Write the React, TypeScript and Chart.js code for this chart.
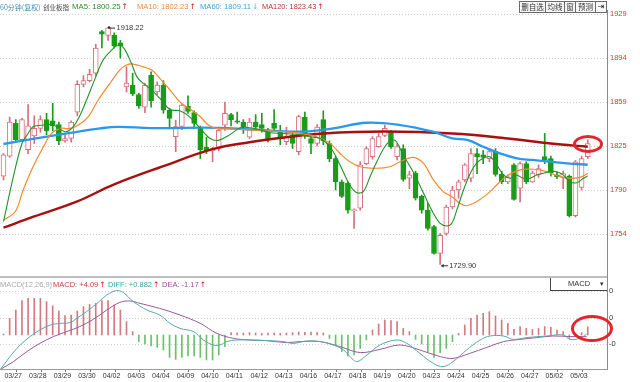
import React, { useEffect, useRef } from 'react';
import { Chart, registerables } from 'chart.js';
Chart.register(...registerables);

const FONT = '"Liberation Sans", Arial, sans-serif';

// ---- data ----
const dates = ['03/27','03/28','03/29','03/30','04/02','04/03','04/04','04/09','04/10','04/11','04/12','04/13','04/16','04/17','04/18','04/19','04/20','04/23','04/24','04/25','04/26','04/27','05/02','05/03'];

const opens = [1800,1816,1842,1829,1821,1832,1838,1845,1844,1841,1828,1830,1851,1873,1876,1882,1915,1912,1912,1906,1871,1872.5,1865,1855,1880.5,1867,1872.5,1852.5,1831.5,1839.5,1855.5,1850.5,1839,1823,1820,1822,1840.5,1849,1844,1843,1831,1843,1841,1836.5,1842,1835.5,1827.5,1832.5,1819.5,1847,1830,1826,1845,1826,1814,1795.5,1794.5,1772.5,1774.5,1810,1815.5,1823.5,1832.5,1835.5,1815.5,1822,1798.5,1802.5,1784,1773,1760,1738.5,1754.5,1775.5,1789,1797,1798.5,1818,1817,1814,1819.5,1801.5,1795.5,1809,1790.5,1810,1795.5,1801,1815.5,1814,1801,1799,1800,1768.5,1791,1815.5];
const highs = [1818,1847,1845,1846,1857,1848,1848,1850,1858,1843,1833,1844,1876,1880,1885,1905,1916,1918.22,1914,1908,1887,1882,1866,1874,1883,1875,1876,1854,1844.5,1858,1864,1852,1840,1831,1823,1838,1859,1850,1851,1845,1846,1849,1850,1838,1853,1840.5,1839,1834,1848.5,1851,1831.5,1841,1852,1828,1815.5,1797,1795.5,1774,1811.5,1823.5,1831.5,1834,1840.5,1836.5,1826,1825,1804,1804,1785,1778.5,1761,1754.5,1777,1792,1797,1810,1822,1822,1820.5,1822,1822,1804,1801,1810,1811.5,1811.5,1804,1809,1834,1816,1803,1804,1801,1812.5,1816,1829];
const lows = [1797,1815,1827,1828,1818,1826,1835,1833,1836,1825,1827,1827,1848,1871,1875,1880,1902,1908,1902,1894,1867,1864,1854,1850.5,1855,1865,1850,1838,1819.5,1837,1850,1838,1814,1818,1811.5,1820,1836.5,1840,1842,1834,1830,1836.5,1835,1827,1836.5,1825,1825,1822,1817,1830,1818,1824,1825,1811.5,1789,1783,1770.5,1758.5,1773,1809,1813.5,1823,1831.5,1822,1813,1796,1790,1781,1770.5,1757,1738,1729.9,1753,1774,1782.5,1795.5,1795.5,1802,1810,1811.5,1800,1794,1794,1781,1779.5,1794,1795,1799,1810,1800,1798,1790,1767.5,1767.5,1789,1814];
const closes = [1817,1843,1829,1845,1840,1838,1845,1836,1840,1828,1830,1843,1873,1876,1881,1902,1913,1918,1903.5,1903.5,1874,1865.5,1856,1872.5,1860,1872.5,1852.5,1846,1839.5,1856.5,1851.5,1842,1821,1820,1822,1836.5,1850,1845,1843,1839,1843,1839,1838,1829,1838,1830,1831.5,1826,1847.5,1833,1826,1839,1828,1814,1795.5,1784,1773,1773.5,1809,1822,1830,1831.5,1838,1823.5,1823.5,1797.5,1801,1782.5,1773,1758.5,1738.5,1753,1775.5,1789,1795.5,1809,1818,1815.5,1815,1819.5,1801.5,1795.5,1799.5,1781.5,1810,1795.5,1802.5,1806,1813,1802.5,1799.5,1802,1768.5,1811.5,1814,1826];

// moving averages: [bar index, value]
const ma5 = [[0,1763.8],[1.6,1799.6],[3,1826],[4,1834],[4.8,1839.3],[6.5,1840.7],[8.1,1840.7],[10,1835.4],[11.1,1838],[12.2,1846],[13.5,1860.6],[14.9,1877.8],[16.2,1892.4],[17.6,1900.4],[18.7,1904.3],[19.6,1901.7],[20.8,1889.8],[21.7,1879],[22.7,1873.9],[24.1,1868.5],[25.4,1862],[27.1,1853],[28.7,1852],[30.3,1847],[32,1838],[33.6,1830],[34.9,1828.5],[36.8,1833],[38.5,1838.5],[40.1,1838.5],[41.7,1837],[43.3,1834.5],[45.4,1834],[48.2,1833],[49.8,1831.4],[51.5,1830],[53.1,1823.4],[54.7,1809],[56.3,1793],[57.4,1787],[58.5,1787.7],[59.6,1799.6],[60.7,1811.5],[62,1823.4],[63.1,1828.8],[63.9,1827.4],[65,1816.8],[66.6,1803.6],[68.3,1786.4],[69.9,1770.5],[71,1762.5],[72.1,1760.4],[72.9,1762.5],[73.7,1773],[74.8,1789],[75.9,1802.3],[76.9,1810.2],[78,1814.2],[79.1,1815.5],[80.2,1809],[81.3,1801],[82.4,1798.3],[83.4,1801],[84.5,1798.3],[85.6,1798.3],[86.7,1801],[87.8,1802.3],[88.9,1803.6],[90,1803.6],[91,1801],[92.1,1795.6],[93.2,1794.8],[94.3,1798.3],[95,1800.25]];
const ma10 = [[0,1765.1],[1.9,1771.7],[3.2,1789],[4.8,1807.5],[6.5,1823.4],[7.8,1834],[9.2,1838],[10.8,1838],[12.2,1840.7],[13.8,1847.3],[15.4,1860.6],[17.3,1873.9],[18.9,1884.4],[20,1888.4],[21.1,1889.2],[22.7,1887],[24.1,1884.4],[25.4,1877.8],[27.1,1868.5],[28.7,1859],[30.3,1853.5],[32,1847.3],[33.3,1840.7],[34.7,1838],[37.4,1837.5],[40.1,1836.7],[42.8,1836],[45.5,1835.5],[48.2,1834],[50.9,1831.4],[53.1,1826.1],[54.7,1818.2],[56.3,1811.5],[58,1807.5],[60.7,1806.3],[62.8,1807.5],[64.5,1811.5],[66.6,1815],[68.3,1810.2],[69.9,1797],[71.5,1787.7],[72.9,1783.7],[74.2,1778.4],[75.3,1776.5],[76.9,1779.7],[78.6,1785.5],[80.2,1793],[81.8,1800],[84,1805],[86.2,1805.5],[88.3,1803.6],[90.5,1799.6],[92.1,1798.3],[93.7,1799],[95,1802.23]];
const ma60 = [[0,1825.6],[4.8,1829.6],[10.3,1834],[15.7,1838],[18.6,1839.3],[24,1838.3],[34.7,1838.5],[40,1837.3],[48,1835.4],[53.6,1838],[59,1842.5],[64.5,1840.7],[69.8,1835.4],[73,1830],[75.4,1828.8],[78,1823.4],[80.7,1818.2],[83.5,1814.2],[86,1812.9],[88.9,1811.5],[91.6,1810.2],[95,1809.11]];
const ma120 = [[0,1759],[5,1768],[12,1780],[18,1793.5],[26,1808],[34,1821.5],[40,1827],[46,1831],[52,1834],[62,1835.5],[73,1834],[82,1830],[89,1826],[95,1823.43]];

const macdHist = [0.5,8.3,12.5,17.2,18.3,18.3,18.3,16.7,14.5,12,9.7,10,12,14.2,15.3,15.8,17.2,17.2,15,12.5,6.7,1.7,-3.3,-4.5,-5.5,-6.2,-7.5,-11.2,-12.2,-11.2,-10.5,-10.5,-11.2,-12.5,-12.5,-10,-5.8,1.2,1,1,1.2,1,0.8,1,1,0.8,1,1.2,1.5,1.3,1.5,1.2,1,-1.7,-5,-8.3,-10.5,-10,-6.7,-2.5,2.5,5.5,7.5,7.2,6.7,3.3,1.7,-2.2,-4.5,-8.3,-11.2,-8.8,-6.7,-3.3,0.8,5,8.3,10,10.8,11.7,9.5,7.5,5.8,2.8,4.2,3.3,2.8,3.3,4.2,3.8,2.5,1.7,-1.7,0.3,1.2,4.1];
const diffLine = [[-0.5,-17.2],[1.06,-10.8],[2.7,-5],[4.3,-0.8],[5.9,2.5],[7.6,5],[9.2,5.8],[10.8,6.2],[11.9,8.3],[13.5,11.7],[15.2,15.8],[16.8,20],[18.4,22.2],[19.5,21.2],[21.1,16.7],[23.3,12.5],[25.4,10],[27.1,5.8],[28.7,3.3],[30.9,1.7],[32.5,-2.5],[34.1,-5],[35.2,-5],[36.3,-3.3],[37.9,-2.5],[40.1,-2.5],[42.8,-2.8],[45.5,-3.3],[47.1,-4.2],[49.3,-3],[51.5,-3.3],[53.6,-5],[55.3,-7.5],[56.9,-12.5],[57.6,-13.3],[59.1,-10],[61.2,-5],[63.9,-2.5],[65.6,-4.2],[67.7,-9.2],[69.9,-14.2],[71.5,-15.8],[73.1,-13.3],[75.3,-7.5],[77.5,-2.5],[79.1,-0.5],[81.3,-0.5],[82.9,-2.2],[85.1,-1.3],[88.3,-0.5],[91,0],[92.1,-2.2],[93.7,-1.7],[94.8,0.4]];
const deaLine = [[-0.5,-17.2],[1.6,-13.3],[3.8,-8.3],[5.9,-4.2],[8.1,-0.8],[10.3,1.7],[12.4,4.2],[14.6,7.8],[16.8,12.5],[18.9,16.3],[20.6,17],[22.2,15.8],[25.4,13.3],[28.7,10],[32,5.8],[34.7,0.8],[37.4,-1.7],[40.1,-2.5],[42.8,-2.8],[46,-3.8],[48.2,-3.3],[51.5,-3.3],[54.7,-5.8],[58,-8.8],[61.2,-7.2],[64.5,-5],[67.7,-7.5],[71,-10.8],[73.1,-11.7],[75.8,-9.2],[78.6,-6.2],[81.3,-3.3],[84,-2.2],[86.7,-1.3],[89.4,-0.5],[92.1,-0.8],[94.8,-0.8]];

const priceTickValues = [1929, 1894, 1859, 1824, 1789, 1754];
const priceTickLabels = ['1929', '1894', '1859', '1825', '1790', '1754'];
const macdTickValues = [22, 8.5, -4.5];
const macdTickLabels = ['0', '0', '-0'];

const X_MIN = -0.57;
const X_MAX = 98.13;
const UP = '#d8707c';
const DOWN = '#1a9c1a';

const pts = (a: number[][]) => a.map(([x, y]) => ({ x, y }));

const extremesPlugin = {
  id: 'extremes',
  afterDatasetsDraw(chart: any) {
    const { ctx, scales, chartArea } = chart;
    const x = scales.x, y = scales.y;
    let hi = 0, lo = 0;
    highs.forEach((v, i) => { if (v > highs[hi]) hi = i; });
    lows.forEach((v, i) => { if (v < lows[lo]) lo = i; });
    ctx.save();
    ctx.font = '7.5px ' + FONT;
    ctx.fillStyle = '#333';
    ctx.strokeStyle = '#333';
    ctx.lineWidth = 1;
    ctx.textBaseline = 'middle';
    const hx = x.getPixelForValue(hi), hy = y.getPixelForValue(highs[hi]);
    ctx.beginPath(); ctx.arc(hx + 1, hy, 1.3, 0, Math.PI * 2); ctx.fill();
    ctx.beginPath(); ctx.moveTo(hx + 1, hy + 0.5); ctx.lineTo(hx + 7, hy + 0.5); ctx.stroke();
    ctx.fillText(highs[hi].toFixed(2), hx + 8.5, hy + 0.5);
    const lx = x.getPixelForValue(lo), ly = y.getPixelForValue(lows[lo]) + 1;
    ctx.beginPath(); ctx.moveTo(lx + 1, ly + 0.5); ctx.lineTo(lx + 8, ly + 0.5); ctx.stroke();
    ctx.beginPath(); ctx.moveTo(lx + 1, ly + 0.5); ctx.lineTo(lx + 3.5, ly - 1.5); ctx.lineTo(lx + 3.5, ly + 2.5); ctx.closePath(); ctx.fill();
    ctx.fillText(lows[lo].toFixed(2), lx + 9, ly + 0.5);
    // separator line under the price panel
    ctx.strokeStyle = '#a8a8a8';
    ctx.lineWidth = 1.5;
    ctx.beginPath(); ctx.moveTo(0, chartArea.bottom); ctx.lineTo(chartArea.right, chartArea.bottom); ctx.stroke();
    ctx.restore();
  },
};

export default function App() {
  const mainRef = useRef<HTMLCanvasElement>(null);
  const macdRef = useRef<HTMLCanvasElement>(null);

  useEffect(() => {
    document.body.style.margin = '0';
    Chart.defaults.font.family = FONT;
    const idx = opens.map((_, i) => i);
    const isUp = idx.map((i) => closes[i] >= opens[i]);

    const main = new Chart(mainRef.current as HTMLCanvasElement, {
      type: 'bar',
      data: {
        datasets: [
          { type: 'line', data: pts(ma5), borderColor: '#23912a', borderWidth: 1.1, pointRadius: 0, tension: 0.35, order: 0 } as any,
          { type: 'line', data: pts(ma10), borderColor: '#f5892d', borderWidth: 1.2, pointRadius: 0, tension: 0.35, order: 1 } as any,
          { type: 'line', data: pts(ma60), borderColor: '#2b98ec', borderWidth: 2.3, pointRadius: 0, tension: 0.4, order: 2 } as any,
          { type: 'line', data: pts(ma120), borderColor: '#a80f0f', borderWidth: 2.4, pointRadius: 0, tension: 0.4, order: 3 } as any,
          {
            type: 'bar',
            data: idx.map((i) => ({ x: i, y: [opens[i], closes[i]] })),
            backgroundColor: idx.map((i) => (isUp[i] ? '#ffffff' : DOWN)),
            borderColor: idx.map((i) => (isUp[i] ? UP : DOWN)),
            borderWidth: 1,
            borderSkipped: false,
            barThickness: 5,
            grouped: false,
            order: 4,
          } as any,
          {
            type: 'bar',
            data: idx.map((i) => ({ x: i, y: [lows[i], highs[i]] })),
            backgroundColor: idx.map((i) => (isUp[i] ? UP : DOWN)),
            borderWidth: 0,
            barThickness: 1,
            grouped: false,
            order: 5,
          } as any,
        ],
      },
      options: {
        responsive: false,
        animation: false,
        devicePixelRatio: 1,
        events: [],
        layout: { padding: { top: 10, bottom: 1, left: 0, right: 0 } },
        plugins: { legend: { display: false }, tooltip: { enabled: false } },
        scales: {
          x: { type: 'linear', min: X_MIN, max: X_MAX, display: false, offset: false },
          y: {
            type: 'linear',
            position: 'right',
            min: 1719.8,
            max: 1932.2,
            afterBuildTicks: (s: any) => { s.ticks = priceTickValues.map((v) => ({ value: v })); },
            afterFit: (s: any) => { s.width = 33; s.paddingTop = 0; s.paddingBottom = 0; },
            ticks: {
              autoSkip: false,
              padding: 3,
              color: '#c0403c',
              font: { size: 7.5, family: FONT },
              callback: (_v: any, i: number) => priceTickLabels[i],
            },
            grid: { color: '#cfcfcf', lineWidth: 1, drawTicks: false },
            border: { display: true, color: '#8a8a8a', width: 1, dash: [1, 2] },
          },
        },
      } as any,
      plugins: [extremesPlugin],
    });

    const macd = new Chart(macdRef.current as HTMLCanvasElement, {
      type: 'bar',
      data: {
        datasets: [
          { type: 'line', data: pts(diffLine), borderColor: '#55a9aa', borderWidth: 1, pointRadius: 0, tension: 0.35, order: 0 } as any,
          { type: 'line', data: pts(deaLine), borderColor: '#9c58a0', borderWidth: 1, pointRadius: 0, tension: 0.35, order: 1 } as any,
          {
            type: 'bar',
            data: macdHist.map((v, i) => ({ x: i, y: v })),
            backgroundColor: macdHist.map((v) => (v >= 0 ? '#d27a80' : '#6cc06c')),
            borderWidth: 0,
            barThickness: 1,
            grouped: false,
            order: 2,
          } as any,
        ],
      },
      options: {
        responsive: false,
        animation: false,
        devicePixelRatio: 1,
        events: [],
        layout: { padding: 0 },
        plugins: { legend: { display: false }, tooltip: { enabled: false } },
        scales: {
          x: {
            type: 'linear',
            min: X_MIN,
            max: X_MAX,
            offset: false,
            afterBuildTicks: (s: any) => { s.ticks = dates.map((_, d) => ({ value: d * 4 + 0.15 })); },
            afterFit: (s: any) => { s.height = 13; s.paddingLeft = 0; s.paddingRight = 0; },
            ticks: {
              autoSkip: false,
              maxRotation: 0,
              align: 'start',
              padding: 0,
              color: '#333',
              font: { size: 7, family: FONT },
              callback: (_v: any, i: number) => dates[i],
            },
            grid: { display: true, drawOnChartArea: false, drawTicks: true, tickLength: 3, color: '#777' },
            border: { display: true, color: '#9a9a9a', width: 1 },
          },
          y: {
            type: 'linear',
            position: 'right',
            min: -17,
            max: 28.5,
            afterBuildTicks: (s: any) => { s.ticks = macdTickValues.map((v) => ({ value: v })); },
            afterFit: (s: any) => { s.width = 33; s.paddingTop = 0; s.paddingBottom = 0; },
            ticks: {
              autoSkip: false,
              padding: 2,
              color: '#333',
              font: { size: 7.5, family: FONT },
              callback: (_v: any, i: number) => macdTickLabels[i],
            },
            grid: { color: '#cfcfcf', lineWidth: 1, drawTicks: false },
            border: { display: true, color: '#8a8a8a', width: 1, dash: [1, 2] },
          },
        },
      } as any,
    });

    return () => { main.destroy(); macd.destroy(); };
  }, []);

  const ARROW = '"DejaVu Sans", sans-serif';
  const span = (left: number, top: number, text: string, color: string, size: number, family = FONT) => (
    <span key={left + text} style={{ position: 'absolute', left, top, color, fontSize: size, lineHeight: '10px', whiteSpace: 'nowrap', fontFamily: family }}>{text}</span>
  );
  const withArrow = (left: number, top: number, text: string, color: string, size: number, arrow: string, arrowColor: string) => (
    <span key={left + text} style={{ position: 'absolute', left, top, color, fontSize: size, lineHeight: '10px', whiteSpace: 'nowrap', fontFamily: FONT }}>
      {text}
      <span style={{ fontFamily: ARROW, color: arrowColor, marginLeft: 1 }}>{arrow}</span>
    </span>
  );
  const btn = (left: number, width: number, text: string) => (
    <div key={text} style={{ position: 'absolute', left, top: 1, width, height: 12, border: '1px solid #6a6a6a', boxSizing: 'border-box', background: '#f7f7f7', color: '#333', fontSize: 7.5, lineHeight: '10px', textAlign: 'center', whiteSpace: 'nowrap', fontFamily: '"Noto Sans CJK SC", sans-serif' }}>{text}</div>
  );

  return (
    <div style={{ position: 'absolute', left: 0, top: 0, width: 640, height: 382, background: '#fff', overflow: 'hidden', fontFamily: FONT }}>
      <canvas ref={mainRef} width={640} height={278} style={{ position: 'absolute', left: 0, top: 0 }} />
      <canvas ref={macdRef} width={640} height={104} style={{ position: 'absolute', left: 0, top: 278 }} />

      {span(0, 2, '60分钟(复权)', '#3f8db3', 7, '"Noto Sans CJK SC", sans-serif')}
      {span(43, 2, '创业板指', '#444', 6.5, '"Noto Sans CJK SC", sans-serif')}
      {withArrow(72, 2, 'MA5: 1800.25', '#2a9030', 7.8, '↑', '#e01010')}
      {withArrow(137, 2, 'MA10: 1802.23', '#f08a3a', 7.6, '↑', '#e01010')}
      {withArrow(200, 2, 'MA60: 1809.11', '#3aa0e6', 7.6, '↓', '#5ab4f0')}
      {withArrow(262, 2, 'MA120: 1823.43', '#c0302a', 7.4, '↑', '#e01010')}

      {btn(519, 27, '删自选')}
      {btn(545, 20, '均线')}
      {btn(564, 12, '窗')}
      {btn(575, 21, '预测')}
      <div style={{ position: 'absolute', left: 595, top: 1, width: 12, height: 12, border: '1px solid #6a6a6a', boxSizing: 'border-box', background: '#f7f7f7', color: '#222', fontSize: 8, lineHeight: '10px', textAlign: 'center', fontFamily: ARROW }}>⇥</div>

      {span(0, 280, 'MACD(12,26,9)', '#a8a8a8', 7.5)}
      {withArrow(53, 280, 'MACD: +4.09', '#c83c3c', 7.5, '↑', '#e01010')}
      {withArrow(108, 280, 'DIFF: +0.882', '#3a9ea0', 7.5, '↑', '#e01010')}
      {withArrow(162, 280, 'DEA: -1.17', '#9a4e9a', 7.5, '↑', '#e01010')}

      <div style={{ position: 'absolute', left: 550, top: 278, width: 57, height: 13, borderLeft: '1px solid #444', borderBottom: '1px solid #444', boxSizing: 'border-box', background: '#fff' }}>
        <span style={{ position: 'absolute', left: 17, top: 1, fontSize: 7.5, lineHeight: '10px', color: '#333' }}>MACD</span>
        <span style={{ position: 'absolute', left: 49, top: 1, fontSize: 7, lineHeight: '10px', color: '#333', fontFamily: ARROW }}>▾</span>
      </div>

      <div style={{ position: 'absolute', left: 573, top: 135, width: 30, height: 18, border: '3px solid #e8232b', borderRadius: '50%', boxSizing: 'border-box' }} />
      <div style={{ position: 'absolute', left: 571, top: 315, width: 42, height: 27, border: '3px solid #e8232b', borderRadius: '50%', boxSizing: 'border-box' }} />
    </div>
  );
}
